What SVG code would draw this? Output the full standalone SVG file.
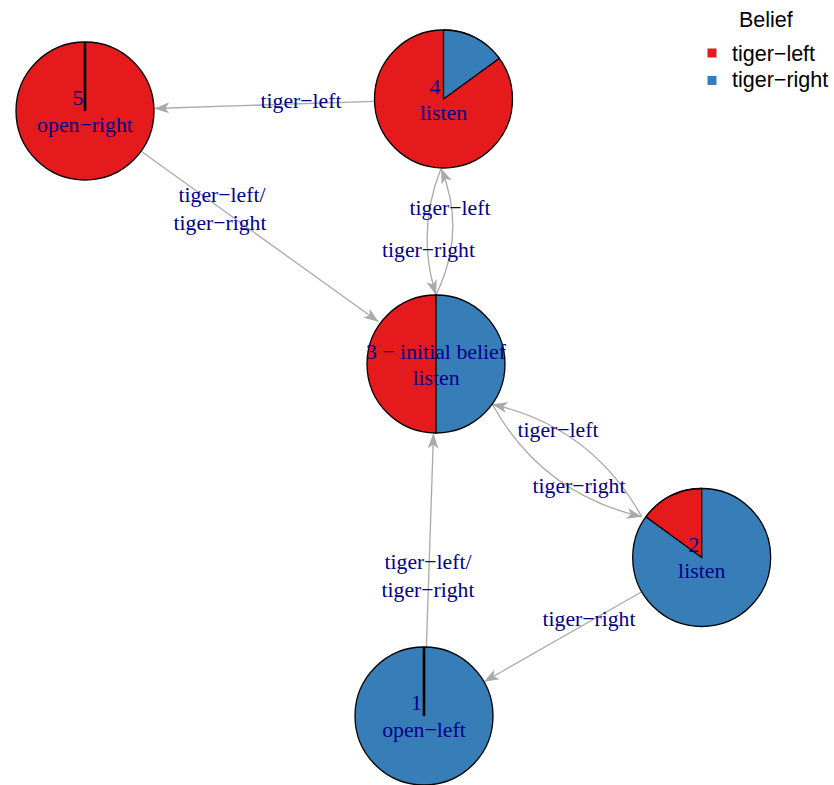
<svg xmlns="http://www.w3.org/2000/svg" width="834" height="785" viewBox="0 0 834 785">
<defs>
<marker id="arr" markerUnits="userSpaceOnUse" markerWidth="16" markerHeight="12" refX="15" refY="6" orient="auto" viewBox="0 0 16 12">
<path d="M0,0.5 L15,6 L0,11.5 L4,6 Z" fill="#A9A9A9"/>
</marker>
</defs>
<style>
.e{fill:none;stroke:#A9A9A9;stroke-width:1.3;marker-end:url(#arr)}
.el{font-family:"Liberation Serif",serif;font-size:21.7px;fill:#00008B;text-anchor:middle}
.nl{font-family:"Liberation Serif",serif;font-size:21.8px;fill:#00008B;text-anchor:middle}
.r{fill:#E41A1C;stroke:#000;stroke-width:1.3}
.b{fill:#377EB8;stroke:#000;stroke-width:1.3}
.lg{font-family:"Liberation Sans",Arial,sans-serif;font-size:21.5px;fill:#000}
</style>
<rect width="834" height="785" fill="#fff"/>
<g id="edges">
<path class="e" d="M374,101.3 L154.3,108.5"/>
<path class="e" d="M141.5,151.5 L378.5,321.8"/>
<path class="e" d="M426.4,647 L433.5,433.5"/>
<path class="e" d="M641.8,591.7 L484,681.8"/>
<path class="e" d="M436,295 Q467,231 441,168.5"/>
<path class="e" d="M441,168.5 Q416,231 436,295"/>
<path class="e" d="M641.7,516.7 Q592,427 492.3,404.3"/>
<path class="e" d="M492.3,404.3 Q542,494 641.7,516.7"/>
</g>
<g id="edge-labels">
<text class="el" x="301" y="108">tiger−left</text>
<text class="el" x="222" y="202">tiger−left/</text>
<text class="el" x="220" y="230">tiger−right</text>
<text class="el" x="450" y="215">tiger−left</text>
<text class="el" x="428.5" y="257">tiger−right</text>
<text class="el" x="558" y="437">tiger−left</text>
<text class="el" x="579" y="493">tiger−right</text>
<text class="el" x="428" y="569">tiger−left/</text>
<text class="el" x="428" y="597">tiger−right</text>
<text class="el" x="589" y="626">tiger−right</text>
</g>
<g id="node5">
<circle class="r" cx="85" cy="111" r="69"/>
<line x1="85" y1="111" x2="85" y2="42" stroke="#000" stroke-width="2.6"/>
<text class="nl" x="78" y="105">5</text>
<text class="nl" x="85" y="131.5">open−right</text>
</g>
<g id="node4">
<circle class="r" cx="443.5" cy="99" r="69"/>
<path class="b" d="M443.5,99 L443.5,30 A69,69 0 0 1 499.3,58.4 Z"/>
<text class="nl" x="435" y="93.5">4</text>
<text class="nl" x="443.5" y="119.5">listen</text>
</g>
<g id="node3">
<path class="r" d="M436,364 L436,295 A69,69 0 0 0 436,433 Z"/>
<path class="b" d="M436,364 L436,295 A69,69 0 0 1 436,433 Z"/>
<text class="nl" x="436" y="358.5">3 − initial belief</text>
<text class="nl" x="436" y="384.5">listen</text>
</g>
<g id="node2">
<circle class="b" cx="701.7" cy="557.5" r="69"/>
<path class="r" d="M701.7,557.5 L701.7,488.5 A69,69 0 0 0 645.9,516.9 Z"/>
<text class="nl" x="694" y="552">2</text>
<text class="nl" x="701.7" y="578">listen</text>
</g>
<g id="node1">
<circle class="b" cx="424" cy="716" r="69"/>
<line x1="424" y1="716" x2="424" y2="647" stroke="#000" stroke-width="2.6"/>
<text class="nl" x="416.5" y="710">1</text>
<text class="nl" x="424" y="736.5">open−left</text>
</g>
<g id="legend">
<text class="lg" x="739" y="27">Belief</text>
<rect x="707.5" y="48.5" width="9" height="9" fill="#E41A1C"/>
<text class="lg" x="732" y="61">tiger−left</text>
<rect x="707.5" y="76" width="9" height="9" fill="#377EB8"/>
<text class="lg" x="732" y="87">tiger−right</text>
</g>
</svg>
